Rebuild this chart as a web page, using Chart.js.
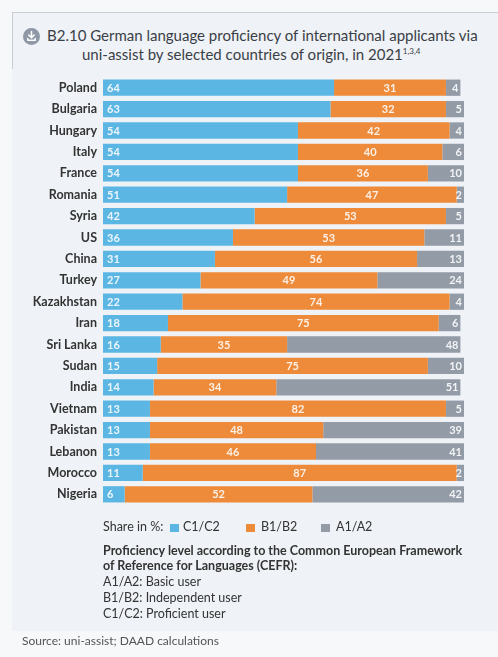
<!DOCTYPE html>
<html>
<head>
<meta charset="utf-8">
<script src="https://cdn.jsdelivr.net/npm/chart.js@4"></script>
<style>
  html, body { margin:0; padding:0; }
  body { width:498px; height:657px; background:#f7f8fa; position:relative; overflow:hidden; font-family: Lato, "Open Sans", sans-serif; }
  #panel { position:absolute; left:12px; top:12px; width:486px; height:618px; background:#eff2f6; border-top:1px solid #c9cdd3; }
  #panelLeft { position:absolute; left:12px; top:12px; width:1px; height:57px; background:#c9cdd3; }
  #wrap { position:absolute; left:0; top:0; width:498px; height:657px; }
  .t { position:absolute; color:#333; white-space:nowrap; }
  #title1 { left:47px; top:26px; font-size:15px; color:#3a3f47; }
  #title2 { left:82px; top:45px; font-size:15px; color:#3a3f47; }
  #title2 sup { font-size:8px; vertical-align:6px; }
  #icon { position:absolute; left:23px; top:28px; }
  .leg { font-size:12.5px; top:519px; color:#333; }
  .sq { position:absolute; top:524px; width:9px; height:8px; }
  .note { font-size:12.5px; left:103px; color:#333; }
  .b { font-weight:bold; }
</style>
</head>
<body>
<div id="panel"></div>
<div id="panelLeft"></div>
<svg id="icon" width="17" height="17" viewBox="0 0 17 17">
  <circle cx="8.5" cy="8.5" r="8.5" fill="#8f98a6"/>
  <path d="M8.5 3.5 V9.5 M5.8 7 L8.5 9.7 L11.2 7" stroke="#fff" stroke-width="1.6" fill="none" stroke-linecap="round" stroke-linejoin="round"/>
  <path d="M4.8 10.5 V12.3 H12.2 V10.5" stroke="#fff" stroke-width="1.5" fill="none" stroke-linecap="round" stroke-linejoin="round"/>
</svg>
<div class="t" id="title1">B2.10 German language proficiency of international applicants via</div>
<div class="t" id="title2">uni-assist by selected countries of origin, in 2021<sup>1,3,4</sup></div>
<div id="wrap"><canvas id="c" width="498" height="657"></canvas></div>
<div class="t leg" style="left:103px;">Share in %:</div>
<div class="sq" style="left:170px;background:#5cb6e4;"></div>
<div class="t leg" style="left:183px;">C1/C2</div>
<div class="sq" style="left:246px;background:#ee8b3a;"></div>
<div class="t leg" style="left:261px;">B1/B2</div>
<div class="sq" style="left:321px;background:#939ba7;"></div>
<div class="t leg" style="left:336px;">A1/A2</div>
<div class="t note b" style="top:543px;">Proficiency level according to the Common European Framework</div>
<div class="t note b" style="top:558px;">of Reference for Languages (CEFR):</div>
<div class="t note" style="top:574px;">A1/A2: Basic user</div>
<div class="t note" style="top:590px;">B1/B2: Independent user</div>
<div class="t note" style="top:606px;">C1/C2: Proficient user</div>
<div class="t" style="left:22px;top:633px;font-size:12px;color:#555;">Source: uni-assist; DAAD calculations</div>
<script>
const countries = ["Poland","Bulgaria","Hungary","Italy","France","Romania","Syria","US","China","Turkey","Kazakhstan","Iran","Sri Lanka","Sudan","India","Vietnam","Pakistan","Lebanon","Morocco","Nigeria"];
const c1c2 = [64,63,54,54,54,51,42,36,31,27,22,18,16,15,14,13,13,13,11,6];
const b1b2 = [31,32,42,40,36,47,53,53,56,49,74,75,35,75,34,82,48,46,87,52];
const a1a2 = [4,5,4,6,10,2,5,11,13,24,4,6,48,10,51,5,39,41,2,42];
const seriesNames = ["C1/C2","B1/B2","A1/A2"];
const seriesColors = ["#5cb6e4","#ee8b3a","#939ba7"];

const labelPlugin = {
  id: 'barLabels',
  afterDatasetsDraw(chart) {
    const ctx = chart.ctx;
    ctx.save();
    ctx.font = 'bold 11px Lato, "Open Sans", sans-serif';
    ctx.fillStyle = 'rgba(255,255,255,0.88)';
    ctx.textBaseline = 'middle';
    chart.data.datasets.forEach((ds, di) => {
      const meta = chart.getDatasetMeta(di);
      meta.data.forEach((bar, i) => {
        const v = ds.data[i];
        const left = Math.min(bar.base, bar.x), right = Math.max(bar.base, bar.x);
        let x;
        if (di === 0) { ctx.textAlign = 'left'; x = left + 4; }
        else if (di === 1) { ctx.textAlign = 'center'; x = (left + right) / 2; }
        else { ctx.textAlign = 'right'; x = right - 2; }
        ctx.fillText(String(v), x, bar.y + 0.5);
      });
    });
    ctx.restore();
  }
};

new Chart(document.getElementById('c'), {
  type: 'bar',
  data: {
    labels: countries,
    datasets: [c1c2, b1b2, a1a2].map((d, k) => ({
      label: seriesNames[k],
      data: d,
      backgroundColor: seriesColors[k],
      borderWidth: 0,
      barPercentage: 1,
      categoryPercentage: 0.76
    }))
  },
  options: {
    indexAxis: 'y',
    responsive: false,
    animation: false,
    layout: { padding: { top: 77, bottom: 152, right: 34, left: 0 } },
    plugins: { legend: { display: false }, tooltip: { enabled: false } },
    scales: {
      x: { stacked: true, min: 0, max: 100, display: false },
      y: {
        stacked: true,
        grid: { display: false, drawTicks: false },
        border: { display: false },
        afterFit(s) { s.width = 103; },
        ticks: { color: '#333', padding: 6, font: { family: 'Lato, "Open Sans", sans-serif', weight: 'bold', size: 12.5 } }
      }
    }
  },
  plugins: [labelPlugin]
});
</script>
</body>
</html>
